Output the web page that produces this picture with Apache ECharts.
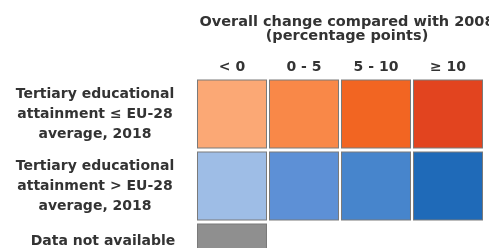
<!DOCTYPE html>
<html>
<head>
<meta charset="UTF-8">
<script src="https://cdn.jsdelivr.net/npm/echarts@6.0.0/dist/echarts.min.js"></script>
<style>
  html, body { margin: 0; padding: 0; background: #fff; }
  #chart { width: 489px; height: 248px; }
</style>
</head>
<body>
<div id="chart"></div>
<script>
// legend classes
const columns = ['< 0', '0 - 5', '5 - 10', '≥ 10'];
const rows = [
  'Tertiary educational\nattainment ≤ EU-28\naverage, 2018',
  'Tertiary educational\nattainment > EU-28\naverage, 2018',
  'Data not available'
];
const lowColors = ['#fba875', '#f98848', '#f26522', '#e2441f'];
const highColors = ['#9ebde6', '#5d90d6', '#4785cc', '#1f6ab8'];
const naColors = ['#8f8f8f'];

const font = 'DejaVu Sans';

const cells = [];
[lowColors, highColors, naColors].forEach((list, r) => {
  list.forEach((c, i) => {
    cells.push({ value: [i, r], itemStyle: { color: c } });
  });
});

const chart = echarts.init(document.getElementById('chart'));
chart.setOption({
  animation: false,
  title: {
    text: 'Overall change compared with 2008\n(percentage points)',
    left: 342,
    top: 10,
    textAlign: 'center',
    textStyle: {
      fontFamily: font, fontSize: 14.5, fontWeight: 'bold',
      color: '#333', lineHeight: 14, align: 'center'
    }
  },
  grid: { left: 196, top: 78, width: 288, height: 216, outerBoundsMode: 'none' },
  xAxis: {
    type: 'category',
    position: 'top',
    data: columns,
    axisLine: { show: false },
    axisTick: { show: false },
    splitLine: { show: false },
    axisLabel: {
      margin: 4,
      interval: 0,
      fontFamily: font, fontSize: 14, fontWeight: 'bold', color: '#333'
    }
  },
  yAxis: {
    type: 'category',
    inverse: true,
    data: rows,
    axisLine: { show: false },
    axisTick: { show: false },
    splitLine: { show: false },
    axisLabel: {
      margin: 101,
      interval: 0,
      hideOverlap: false,
      align: 'center',
      lineHeight: 20,
      fontFamily: font, fontSize: 14, fontWeight: 'bold', color: '#333',
      // the last label sits higher than its cell in the original
      formatter: (v, i) => i === 2 ? '{na|' + v + '}' : v,
      rich: {
        na: {
          fontFamily: font, fontSize: 14, fontWeight: 'bold', color: '#333',
          padding: [0, 0, 34, 16]
        }
      }
    }
  },
  series: [{
    type: 'scatter',
    symbol: 'rect',
    symbolSize: [69, 68],
    itemStyle: { borderColor: '#7a7a7a', borderWidth: 1, opacity: 1 },
    data: cells
  }]
});
</script>
</body>
</html>
